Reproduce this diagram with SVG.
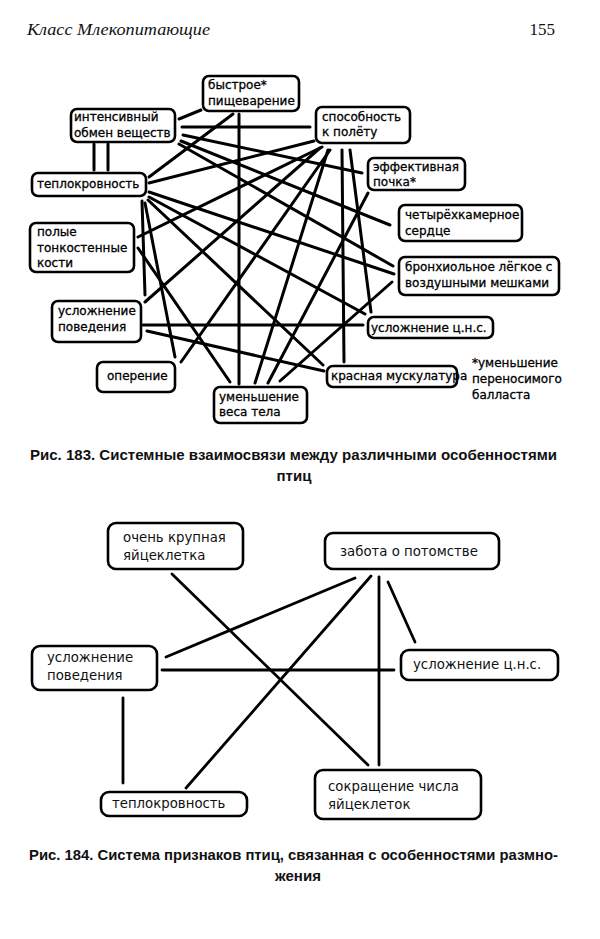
<svg xmlns="http://www.w3.org/2000/svg" width="600" height="939" viewBox="0 0 600 939">
<style>
.bg{fill:#fff}
.box{fill:#fff;stroke:#000;stroke-width:2.6}
.t{font-family:"DejaVu Sans","Liberation Sans",sans-serif;font-size:12px;fill:#000;stroke:#000;stroke-width:0.3}
.t2{font-family:"DejaVu Sans","Liberation Sans",sans-serif;font-size:13.3px;fill:#111}
.ln{stroke:#000;stroke-width:3;stroke-linecap:round;fill:none}
.ln2{stroke:#000;stroke-width:2.8;stroke-linecap:round;fill:none}
.hdr{font-family:"Liberation Serif",serif;font-size:17px;fill:#111}
.cap{font-family:"Liberation Sans",sans-serif;font-size:15px;font-weight:bold;fill:#111}
</style>
<rect class="bg" x="0" y="0" width="600" height="939"/>
<text class="hdr" x="27" y="35" font-style="italic" textLength="183" lengthAdjust="spacingAndGlyphs">Класс Млекопитающие</text>
<text class="hdr" x="555" y="35" text-anchor="end">155</text>

<g id="connectors183">
<line class="ln" x1="94" y1="144" x2="94" y2="170"/>
<line class="ln" x1="108" y1="144" x2="108" y2="170"/>
<line class="ln" x1="179" y1="119" x2="201" y2="110"/>
<line class="ln" x1="182" y1="127" x2="310" y2="127"/>
<line class="ln" x1="233" y1="114" x2="149" y2="177"/>
<line class="ln" x1="239" y1="114" x2="239" y2="384"/>
<line class="ln" x1="149" y1="183" x2="314" y2="141"/>
<line class="ln" x1="142" y1="201" x2="145" y2="295"/>
<line class="ln" x1="145" y1="203" x2="175" y2="357"/>
<line class="ln" x1="138" y1="237" x2="322" y2="147"/>
<line class="ln" x1="138" y1="248" x2="230" y2="382"/>
<line class="ln" x1="145" y1="302" x2="320" y2="148"/>
<line class="ln" x1="143" y1="325" x2="363" y2="325"/>
<line class="ln" x1="147" y1="331" x2="324" y2="371"/>
<line class="ln" x1="181" y1="362" x2="330" y2="150"/>
<line class="ln" x1="183" y1="135" x2="362" y2="173"/>
<line class="ln" x1="181" y1="141" x2="390" y2="225"/>
<line class="ln" x1="179" y1="144" x2="393" y2="266"/>
<line class="ln" x1="149" y1="192" x2="394" y2="274"/>
<line class="ln" x1="149" y1="197" x2="365" y2="314"/>
<line class="ln" x1="148" y1="200" x2="323" y2="365"/>
<line class="ln" x1="328" y1="150" x2="255" y2="383"/>
<line class="ln" x1="342" y1="150" x2="344" y2="362"/>
<line class="ln" x1="350" y1="150" x2="371" y2="312"/>
<line class="ln" x1="368" y1="193" x2="268" y2="383"/>
<line class="ln" x1="392" y1="282" x2="280" y2="381"/>
</g>

<g id="n-bystroe"><rect class="box" x="203" y="76" width="96" height="35" rx="6"/><text class="t" x="208" y="89">быстрое*</text><text class="t" x="208" y="105">пищеварение</text></g>
<g id="n-obmen"><rect class="box" x="71" y="109" width="104" height="33" rx="6"/><text class="t" x="74" y="121">интенсивный</text><text class="t" x="74" y="137">обмен веществ</text></g>
<g id="n-teplo"><rect class="box" x="32" y="173" width="114" height="23" rx="6"/><text class="t" x="37" y="188">теплокровность</text></g>
<g id="n-polet"><rect class="box" x="316" y="107" width="94" height="36" rx="6"/><text class="t" x="322" y="121">способность</text><text class="t" x="322" y="136">к полёту</text></g>
<g id="n-pochka"><rect class="box" x="368" y="158" width="97" height="32" rx="6"/><text class="t" x="373" y="171">эффективная</text><text class="t" x="373" y="186">почка*</text></g>
<g id="n-serdce"><rect class="box" x="399" y="205" width="123" height="36" rx="6"/><text class="t" x="405" y="219">четырёхкамерное</text><text class="t" x="405" y="235">сердце</text></g>
<g id="n-legkoe"><rect class="box" x="399" y="257" width="160" height="38" rx="6"/><text class="t" x="405" y="271">бронхиольное лёгкое с</text><text class="t" x="405" y="287">воздушными мешками</text></g>
<g id="n-cns"><rect class="box" x="368" y="317" width="125" height="21" rx="6"/><text class="t" x="371" y="332">усложнение ц.н.с.</text></g>
<g id="n-muskul"><rect class="box" x="327" y="366" width="130" height="21" rx="6"/><text class="t" x="331" y="380">красная мускулатура</text></g>
<g id="n-ves"><rect class="box" x="214" y="387" width="93" height="36" rx="6"/><text class="t" x="219" y="401">уменьшение</text><text class="t" x="219" y="416">веса тела</text></g>
<g id="n-operenie"><rect class="box" x="97" y="362" width="78" height="30" rx="6"/><text class="t" x="107" y="380">оперение</text></g>
<g id="n-povedenie"><rect class="box" x="52" y="301" width="89" height="41" rx="6"/><text class="t" x="58" y="315">усложнение</text><text class="t" x="58" y="331">поведения</text></g>
<g id="n-kosti"><rect class="box" x="30" y="223" width="104" height="49" rx="6"/><text class="t" x="37" y="236">полые</text><text class="t" x="37" y="252">тонкостенные</text><text class="t" x="37" y="267">кости</text></g>
<g id="footnote"><text class="t" x="472" y="367">*уменьшение</text><text class="t" x="472" y="383">переносимого</text><text class="t" x="472" y="399">балласта</text></g>

<text class="cap" x="30" y="460" textLength="527" lengthAdjust="spacingAndGlyphs">Рис. 183. Системные взаимосвязи между различными особенностями</text>
<text class="cap" x="294" y="481" text-anchor="middle">птиц</text>

<g id="connectors184">
<line class="ln2" x1="172" y1="574" x2="368" y2="765"/>
<line class="ln2" x1="166" y1="657" x2="355" y2="578"/>
<line class="ln2" x1="162" y1="670" x2="394" y2="670"/>
<line class="ln2" x1="371" y1="576" x2="186" y2="788"/>
<line class="ln2" x1="379" y1="577" x2="379" y2="765"/>
<line class="ln2" x1="388" y1="582" x2="415" y2="642"/>
<line class="ln2" x1="123" y1="698" x2="123" y2="783"/>
</g>

<g id="m-yaico"><rect class="box" x="108" y="523" width="135" height="46" rx="8"/><text class="t2" x="123" y="542">очень крупная</text><text class="t2" x="123" y="560">яйцеклетка</text></g>
<g id="m-zabota"><rect class="box" x="325" y="533" width="174" height="36" rx="8"/><text class="t2" x="340" y="556">забота о потомстве</text></g>
<g id="m-povedenie"><rect class="box" x="32" y="646" width="125" height="44" rx="8"/><text class="t2" x="47" y="662">усложнение</text><text class="t2" x="47" y="680">поведения</text></g>
<g id="m-cns"><rect class="box" x="401" y="650" width="157" height="30" rx="8"/><text class="t2" x="413" y="669">усложнение ц.н.с.</text></g>
<g id="m-teplo"><rect class="box" x="101" y="792" width="146" height="24" rx="8"/><text class="t2" x="112" y="808">теплокровность</text></g>
<g id="m-sokr"><rect class="box" x="315" y="770" width="166" height="49" rx="8"/><text class="t2" x="328" y="791">сокращение числа</text><text class="t2" x="328" y="809">яйцеклеток</text></g>

<text class="cap" x="29" y="860" textLength="529" lengthAdjust="spacingAndGlyphs">Рис. 184. Система признаков птиц, связанная с особенностями размно-</text>
<text class="cap" x="298" y="881" text-anchor="middle">жения</text>
</svg>
